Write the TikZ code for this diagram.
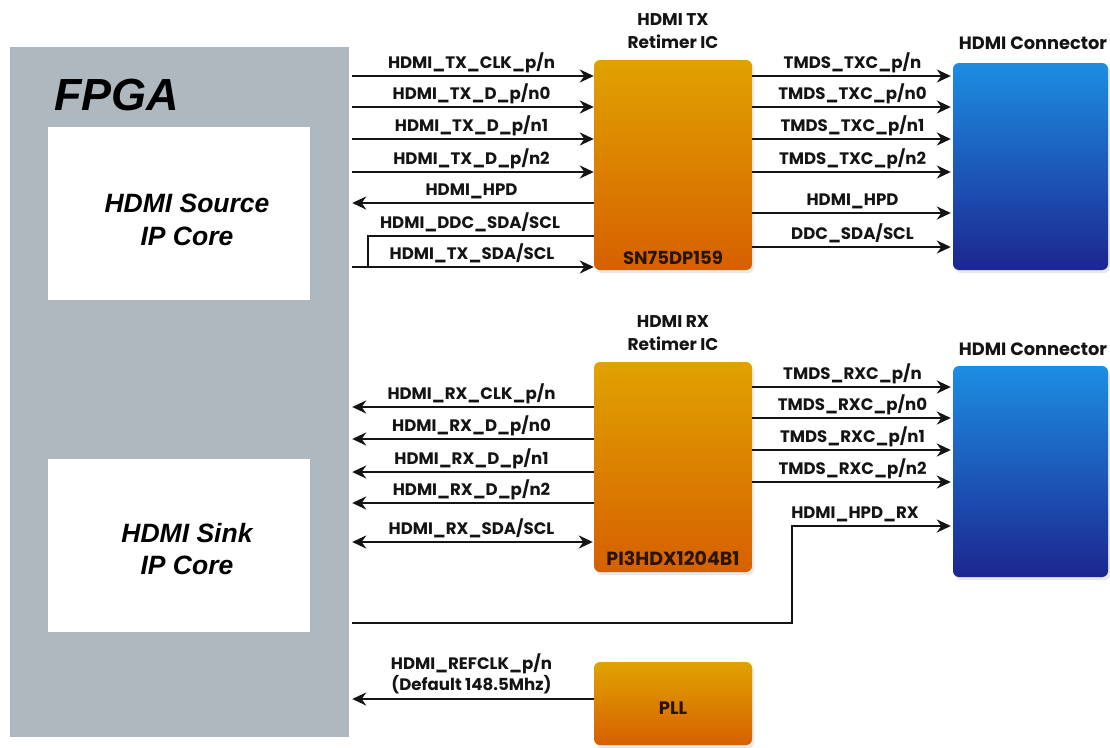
\documentclass[tikz,border=0pt]{standalone}
\usepackage{fontspec}
\setmainfont{Poppins}
\newfontfamily\arialfont{Liberation Sans}
\usetikzlibrary{arrows.meta,shadows}
\definecolor{fpgagray}{HTML}{AEB8BE}
\definecolor{orTop}{HTML}{E0A200}
\definecolor{orBot}{HTML}{D66000}
\definecolor{blTop}{HTML}{1C8EE2}
\definecolor{blBot}{HTML}{1C2690}
\definecolor{ink}{HTML}{141414}
\definecolor{chipink}{HTML}{2A1400}
\begin{document}
\begin{tikzpicture}[x=1pt,y=-1pt,
  sigfont/.style={font=\bfseries\fontsize{16.6}{18}\selectfont},
  tip/.tip={Stealth[length=14pt,width=13pt]},
  sig/.style={line width=2.8pt, draw=ink, -tip},
  sigl/.style={line width=2.8pt, draw=ink, tip-},
  sigb/.style={line width=2.8pt, draw=ink, tip-tip},
  plain/.style={line width=2.8pt, draw=ink},
  lbl/.style={sigfont, text=ink, anchor=base, inner sep=0pt, yshift=8pt},
  title/.style={font=\bfseries\fontsize{17}{22.5}\selectfont, text=ink, align=center},
  chip/.style={rectangle, rounded corners=6pt, top color=orTop, bottom color=orBot, draw=none,
    inner sep=0pt, minimum width=158pt,
    drop shadow={opacity=0.18, shadow xshift=2pt, shadow yshift=-3pt}},
  conn/.style={rectangle, rounded corners=6pt, top color=blTop, bottom color=blBot, draw=none,
    inner sep=0pt, minimum width=155pt,
    drop shadow={opacity=0.18, shadow xshift=2pt, shadow yshift=-3pt}},
  core/.style={rectangle, fill=white, draw=none, minimum width=262pt, minimum height=173pt, inner sep=0pt},
  coretext/.style={align=center, inner sep=0pt, text=black, font=\arialfont\bfseries\itshape\fontsize{26.5}{32.5}\selectfont},
  chiplbl/.style={font=\bfseries\fontsize{18}{20}\selectfont, text=chipink, inner sep=0pt}
]
\useasboundingbox (0,0) rectangle (1110,747);
\fill[white] (0,0) rectangle (1110,747);

% FPGA
\node[rectangle, fill=fpgagray, draw=none, minimum width=339pt, minimum height=690pt, inner sep=0pt]
  (fpga) at (179.5,392) {};
\node[font=\arialfont\bfseries\itshape\fontsize{45}{50}\selectfont, anchor=base west, inner sep=0pt, text=black]
  (fpgalbl) at (54,110) {FPGA};
\node[core] (src) at (179,213.5) {};
\node[coretext] (srct) at (187,220) {HDMI Source\\IP Core};
\node[core] (sink) at (179,545.5) {};
\node[coretext] (sinkt) at (187,549) {HDMI Sink\\IP Core};

% chips
\node[chip, minimum height=210pt] (txr) at (673,165) {};
\node[chip, minimum height=210pt] (rxr) at (673,467) {};
\node[chip, minimum height=83pt] (pll) at (673,703.5) {};
\node[conn, minimum height=207pt] (txc) at (1030.5,166.5) {};
\node[conn, minimum height=211pt] (rxc) at (1030.5,471.5) {};

\node[title] (txt) at (673,31) {HDMI TX\\Retimer IC};
\node[title] (rxt) at (673,333) {HDMI RX\\Retimer IC};
\node[title, font=\bfseries\fontsize{17.8}{22}\selectfont] (txct) at (1033,43) {HDMI Connector};
\node[title, font=\bfseries\fontsize{17.8}{22}\selectfont] (rxct) at (1033,349) {HDMI Connector};
\node[chiplbl] (txpn) at (673,258) {SN75DP159};
\node[chiplbl, font=\bfseries\fontsize{19}{20}\selectfont] (rxpn) at (673,558) {PI3HDX1204B1};
\node[chiplbl] (plln) at (673,708) {PLL};

% TX FPGA side
\draw[sig, shorten <=3pt] (fpga.east |- 0,76) -- (txr.west |- 0,76) node[lbl, midway] (l1) {HDMI\_TX\_CLK\_p/n};
\draw[sig, shorten <=3pt] (fpga.east |- 0,107) -- (txr.west |- 0,107) node[lbl, midway] (l2) {HDMI\_TX\_D\_p/n0};
\draw[sig, shorten <=3pt] (fpga.east |- 0,139) -- (txr.west |- 0,139) node[lbl, midway] (l3) {HDMI\_TX\_D\_p/n1};
\draw[sig, shorten <=3pt] (fpga.east |- 0,172) -- (txr.west |- 0,172) node[lbl, midway] (l4) {HDMI\_TX\_D\_p/n2};
\draw[sigl, shorten <=3pt] (fpga.east |- 0,203) -- (txr.west |- 0,203) node[lbl, midway] (l5) {HDMI\_HPD};
\coordinate (ddcj) at (368,267);
\draw[plain] (txr.west |- 0,236) -- (ddcj |- 0,236) -- (ddcj);
\node[lbl] (l6) at (470,236) {HDMI\_DDC\_SDA/SCL};
\draw[sig, shorten <=3pt] (fpga.east |- 0,267) -- (txr.west |- 0,267);
\node[lbl] (l7) at (472,267) {HDMI\_TX\_SDA/SCL};

% TX connector side
\draw[sig, shorten >=2pt] (txr.east |- 0,76) -- (txc.west |- 0,76) node[lbl, midway] (r1) {TMDS\_TXC\_p/n};
\draw[sig, shorten >=2pt] (txr.east |- 0,107) -- (txc.west |- 0,107) node[lbl, midway] (r2) {TMDS\_TXC\_p/n0};
\draw[sig, shorten >=2pt] (txr.east |- 0,139) -- (txc.west |- 0,139) node[lbl, midway] (r3) {TMDS\_TXC\_p/n1};
\draw[sig, shorten >=2pt] (txr.east |- 0,172) -- (txc.west |- 0,172) node[lbl, midway] (r4) {TMDS\_TXC\_p/n2};
\draw[sig, shorten >=2pt] (txr.east |- 0,213) -- (txc.west |- 0,213) node[lbl, midway] (r5) {HDMI\_HPD};
\draw[sig, shorten >=2pt] (txr.east |- 0,247) -- (txc.west |- 0,247) node[lbl, midway] (r6) {DDC\_SDA/SCL};

% RX FPGA side
\draw[sigl, shorten <=3pt] (fpga.east |- 0,407) -- (rxr.west |- 0,407) node[lbl, midway] (m1) {HDMI\_RX\_CLK\_p/n};
\draw[sigl, shorten <=3pt] (fpga.east |- 0,439) -- (rxr.west |- 0,439) node[lbl, midway] (m2) {HDMI\_RX\_D\_p/n0};
\draw[sigl, shorten <=3pt] (fpga.east |- 0,472) -- (rxr.west |- 0,472) node[lbl, midway] (m3) {HDMI\_RX\_D\_p/n1};
\draw[sigl, shorten <=3pt] (fpga.east |- 0,503) -- (rxr.west |- 0,503) node[lbl, midway] (m4) {HDMI\_RX\_D\_p/n2};
\draw[sigb, shorten <=3pt, shorten >=1pt] (fpga.east |- 0,542) -- (rxr.west |- 0,542) node[lbl, midway] (m5) {HDMI\_RX\_SDA/SCL};

% RX connector side
\draw[sig, shorten >=2pt] (rxr.east |- 0,387) -- (rxc.west |- 0,387) node[lbl, midway] (s1) {TMDS\_RXC\_p/n};
\draw[sig, shorten >=2pt] (rxr.east |- 0,418) -- (rxc.west |- 0,418) node[lbl, midway] (s2) {TMDS\_RXC\_p/n0};
\draw[sig, shorten >=2pt] (rxr.east |- 0,450) -- (rxc.west |- 0,450) node[lbl, midway] (s3) {TMDS\_RXC\_p/n1};
\draw[sig, shorten >=2pt] (rxr.east |- 0,482) -- (rxc.west |- 0,482) node[lbl, midway] (s4) {TMDS\_RXC\_p/n2};
\coordinate (hpdj) at (792,623);
\draw[sig, shorten <=3pt, shorten >=2pt] (fpga.east |- hpdj) -- (hpdj) -- (hpdj |- 0,526) -- (rxc.west |- 0,526);
\node[lbl] (s5) at (855,526) {HDMI\_HPD\_RX};

% PLL
\draw[sigl, shorten <=3pt] (fpga.east |- 0,699) -- (pll.west |- 0,699)
  node[midway, above=4pt, sigfont, font=\bfseries\fontsize{16.6}{19}\selectfont, text=ink, align=center, inner sep=0pt] (pl) {HDMI\_REFCLK\_p/n\\(Default 148.5Mhz)};
\end{tikzpicture}
\end{document}
